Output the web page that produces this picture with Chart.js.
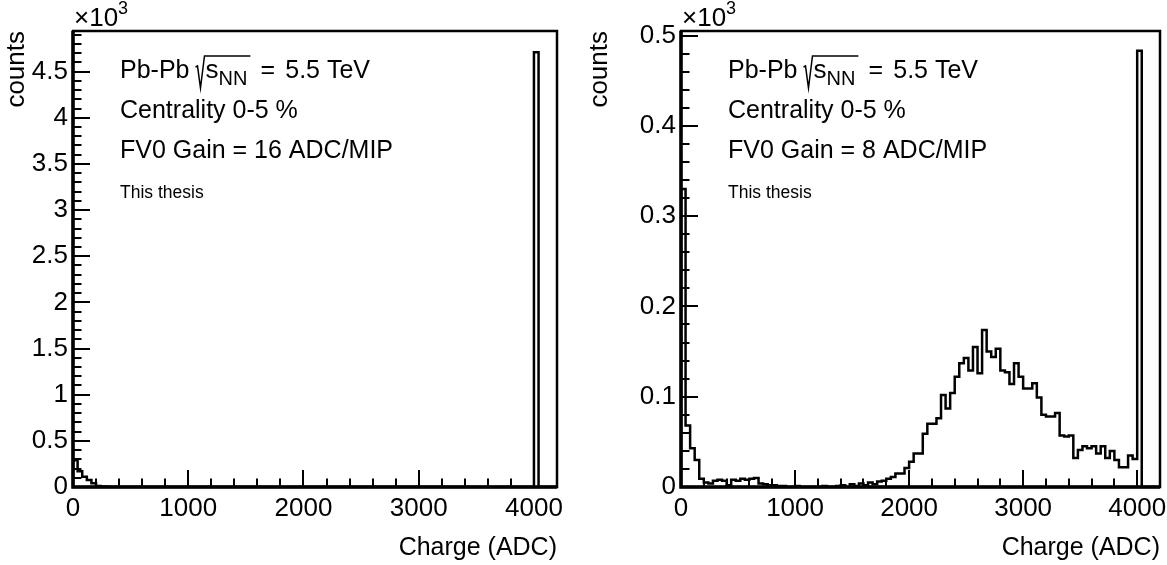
<!DOCTYPE html>
<html><head><meta charset="utf-8">
<script src="https://cdn.jsdelivr.net/npm/chart.js@4.4.1/dist/chart.umd.min.js"></script>
<style>
html,body{margin:0;padding:0;background:#fff;}
#wrap{position:relative;width:1167px;height:565px;overflow:hidden;background:#fff;}
canvas{position:absolute;top:0;}
</style></head>
<body><div id="wrap"><canvas id="c1" width="583" height="565" style="left:0"></canvas><canvas id="c2" width="584" height="565" style="left:583px"></canvas></div>
<script>
// ---- data ----
const binWidth = 40; // ADC per bin, first bin starts at 0
const leftCounts = [290,170,110,75,40,12,5,2,1,1,
  0,0,0,0,0,0,0,0,0,0, 0,0,0,0,0,0,0,0,0,0,
  0,0,0,0,0,0,0,0,0,0, 0,0,0,0,0,0,0,0,0,0,
  0,0,0,0,0,0,0,0,0,0, 0,0,0,0,0,0,0,0,0,0,
  0,0,0,0,0,0,0,0,0,0, 0,0,0,0,0,0,0,0,0,0,
  0,0,0,0,0,0,0,0,0,0,
  4710,0,0,0,0];
const rightCounts = [330,68,43,30,9,5,4,7,8,7,
  2,8,7,9,8,9,10,4,3,2,
  2,1,1,0,0,1,0,0,0,0,
  0,1,0,0,1,2,0,3,1,4,
  2,5,3,6,7,9,11,15,15,21,
  28,37,37,59,70,70,76,102,87,104,
  122,137,143,129,155,126,174,150,144,153,
  129,127,114,137,122,109,109,115,99,80,
  78,78,82,57,56,57,32,41,45,43,
  45,37,45,32,40,30,22,22,35,31,
  483,0,0,0,0];
const xTickValues = [0,1000,2000,3000,4000];
const xTickLabels = ['0','1000','2000','3000','4000'];
const leftYTickValues = [0,500,1000,1500,2000,2500,3000,3500,4000,4500];
const leftYTickLabels = ['0','0.5','1','1.5','2','2.5','3','3.5','4','4.5'];
const rightYTickValues = [0,100,200,300,400,500];
const rightYTickLabels = ['0','0.1','0.2','0.3','0.4','0.5'];
const textLines = ['Centrality 0-5 %'];
const gainLeft = 'FV0 Gain = 16 ADC/MIP';
const gainRight = 'FV0 Gain = 8 ADC/MIP';
const thesisText = 'This thesis';

const FONT = '"Liberation Sans", Arial, Helvetica, sans-serif';

function histPoints(counts){
  const pts = [{x:0,y:0}];
  counts.forEach((c,i)=>pts.push({x:i*binWidth,y:c}));
  pts.push({x:counts.length*binWidth,y:0});
  return pts;
}
function labelFor(values, labels){
  return v => { const i = values.findIndex(t=>Math.abs(t-v)<1e-6); return i>=0 ? labels[i] : ''; };
}

const rootPlugin = {
  id:'rootStyle',
  afterDraw(chart, args, o){
    const {ctx, chartArea:a, scales:{x,y}} = chart;
    ctx.save();
    ctx.strokeStyle='#000'; ctx.fillStyle='#000';
    // inward ticks
    ctx.lineWidth=2;
    ctx.beginPath();
    x.ticks.forEach(t=>{
      const px=Math.round(x.getPixelForValue(t.value));
      const major = xTickValues.some(v=>Math.abs(v-t.value)<1e-6);
      const len = major?17:8.5;
      ctx.moveTo(px,a.bottom); ctx.lineTo(px,a.bottom-len);
    });
    y.ticks.forEach(t=>{
      const py=Math.round(y.getPixelForValue(t.value));
      const major = o.yMajor.some(v=>Math.abs(v-t.value)<1e-6);
      const len = major?17:8.5;
      ctx.moveTo(a.left,py); ctx.lineTo(a.left+len,py);
    });
    ctx.stroke();
    // frame
    ctx.lineWidth=2.5;
    ctx.strokeRect(a.left,a.top,a.right-a.left,a.bottom-a.top);
    ctx.lineWidth=3.5;
    ctx.beginPath();
    ctx.moveTo(a.left,a.top); ctx.lineTo(a.left,a.bottom); ctx.lineTo(a.right,a.bottom);
    ctx.stroke();
    // x10^3
    ctx.textBaseline='alphabetic'; ctx.textAlign='left';
    ctx.font='26px '+FONT;
    ctx.fillText('\u00d710', a.left+1, 26);
    const w10 = ctx.measureText('\u00d710').width;
    ctx.font='18px '+FONT;
    ctx.fillText('3', a.left+1+w10, 14);
    // annotation
    const tx=a.left+47;
    let ty=78;
    ctx.font='25px '+FONT;
    ctx.fillText('Pb-Pb', tx, ty);
    let cx = tx + ctx.measureText('Pb-Pb').width + 6;
    ctx.font='26px '+FONT;
    const sW = ctx.measureText('s').width;
    ctx.font='20px '+FONT;
    const nnW = ctx.measureText('NN').width;
    const topY = ty-22;
    ctx.lineWidth=1.5;
    ctx.beginPath();
    ctx.moveTo(cx, ty-11); ctx.lineTo(cx+2,ty-12);
    ctx.lineTo(cx+5, ty+10); ctx.lineTo(cx+9, topY);
    ctx.lineTo(cx+11+sW+nnW+2, topY);
    ctx.stroke();
    ctx.font='26px '+FONT;
    ctx.fillText('s', cx+10, ty);
    ctx.font='20px '+FONT;
    ctx.fillText('NN', cx+10+sW, ty+7);
    const lineEnd = cx+11+sW+nnW+2;
    ctx.font='25px '+FONT;
    const valW = ctx.measureText('5.5 TeV').width;
    const eqW = ctx.measureText('=').width;
    const valStart = tx+250-valW;
    ctx.fillText('=', (lineEnd+valStart-eqW)/2, ty);
    ctx.fillText('5.5 TeV', valStart, ty);
    ty += 40;
    ctx.fillText(textLines[0], tx, ty);
    ty += 40;
    ctx.fillText(o.gain, tx, ty);
    ctx.font='17.5px '+FONT;
    ctx.fillText(thesisText, tx, 198);
    ctx.restore();
  }
};

function makeChart(id, counts, ymax, ystep, yVals, yLabs, yWidth, padRight, gain){
  return new Chart(document.getElementById(id), {
    type:'line',
    data:{datasets:[{data:histPoints(counts), stepped:'before', borderColor:'#000', borderWidth:2.5,
      pointRadius:0, fill:false, tension:0, borderJoinStyle:'miter', borderCapStyle:'butt'}]},
    options:{
      responsive:false, animation:false, devicePixelRatio:1,
      layout:{padding:{top:31,right:padRight,left:0,bottom:0}},
      plugins:{legend:{display:false}, tooltip:{enabled:false}, rootStyle:{yMajor:yVals, gain:gain}},
      scales:{
        x:{type:'linear', min:0, max:4200, grid:{display:false, drawTicks:false}, border:{display:false},
          ticks:{stepSize:200, autoSkip:false, maxRotation:0, padding:6, color:'#000', font:{size:26, family:FONT}, callback:labelFor(xTickValues,xTickLabels)},
          title:{display:true, text:'Charge (ADC)', align:'end', color:'#000', font:{size:25, family:FONT}, padding:{top:0,bottom:2}},
          afterFit:s=>{s.height=78;}},
        y:{type:'linear', min:0, max:ymax, grid:{display:false, drawTicks:false}, border:{display:false},
          ticks:{stepSize:ystep, includeBounds:false, autoSkip:false, padding:5, color:'#000', font:{size:26, family:FONT}, callback:labelFor(yVals,yLabs)},
          title:{display:true, text:'counts', align:'end', color:'#000', font:{size:26, family:FONT}, padding:{top:1,bottom:0}},
          afterFit:s=>{s.width=yWidth;}}
      }
    },
    plugins:[rootPlugin]
  });
}
makeChart('c1', leftCounts, 4940, 100, leftYTickValues, leftYTickLabels, 73, 26, gainLeft);
makeChart('c2', rightCounts, 505, 20, rightYTickValues, rightYTickLabels, 98, 7, gainRight);
</script></body></html>
